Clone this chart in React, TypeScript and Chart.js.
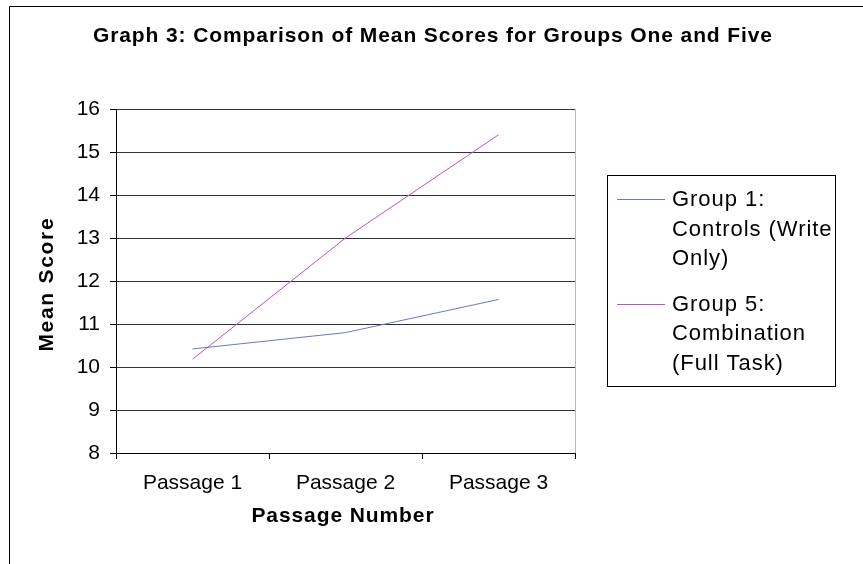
import React, { useEffect, useRef } from 'react';
import { Chart, registerables } from 'chart.js';

Chart.register(...registerables);

const categories = ['Passage 1', 'Passage 2', 'Passage 3'];
const group1Values = [10.42, 10.8, 11.57];
const group5Values = [10.18, 13.0, 15.4];
const seriesLabels = ['Group 1: Controls (Write Only)', 'Group 5: Combination (Full Task)'];
const legendLines = [
  ['Group 1:', 'Controls (Write', 'Only)'],
  ['Group 5:', 'Combination', '(Full Task)'],
];
const seriesColors = ['#6f78c6', '#c450c4'];
const yMin = 8;
const yMax = 16;
const yStep = 1;
const chartTitle = 'Graph 3: Comparison of Mean Scores for Groups One and Five';
const xTitle = 'Passage Number';
const yTitle = 'Mean Score';

const FONT = '"Liberation Sans", Arial, Helvetica, sans-serif';

function spacedText(ctx: CanvasRenderingContext2D, text: string, x: number, y: number, ls: number, align: 'center' | 'left') {
  (ctx as any).letterSpacing = '0px';
  ctx.textAlign = 'left';
  const w0 = ctx.measureText(text).width;
  const w = w0 + ls * (text.length - 1);
  const sx = align === 'center' ? x - w / 2 : x;
  (ctx as any).letterSpacing = ls + 'px';
  ctx.fillText(text, sx, y);
  (ctx as any).letterSpacing = '0px';
}

const decorPlugin = {
  id: 'decor',
  beforeDraw(chart: any) {
    const ctx: CanvasRenderingContext2D = chart.ctx;
    ctx.save();
    ctx.fillStyle = '#fff';
    ctx.fillRect(0, 0, chart.width, chart.height);
    ctx.strokeStyle = '#000';
    ctx.lineWidth = 1;
    ctx.beginPath();
    ctx.moveTo(9.5, chart.height);
    ctx.lineTo(9.5, 6.5);
    ctx.lineTo(chart.width, 6.5);
    ctx.stroke();
    ctx.restore();
  },
  beforeDatasetsDraw(chart: any) {
    const ctx: CanvasRenderingContext2D = chart.ctx;
    const a = chart.chartArea;
    ctx.save();
    ctx.strokeStyle = '#b8b8b8';
    ctx.lineWidth = 1;
    ctx.beginPath();
    ctx.moveTo(Math.round(a.right) + 0.5, a.top);
    ctx.lineTo(Math.round(a.right) + 0.5, a.bottom);
    ctx.stroke();
    ctx.restore();
  },
  afterDraw(chart: any) {
    const ctx: CanvasRenderingContext2D = chart.ctx;
    const a = chart.chartArea;
    ctx.save();
    ctx.fillStyle = '#000';
    ctx.textBaseline = 'alphabetic';
    // Title
    ctx.font = `bold 21px ${FONT}`;
    spacedText(ctx, chartTitle, chart.width / 2 + 1, 41.5, 0.9, 'center');
    // X title
    spacedText(ctx, xTitle, (a.left + a.right) / 2 - 3, 521.5, 0.9, 'center');
    // Y title
    ctx.save();
    ctx.translate(53, (a.top + a.bottom) / 2 + 4);
    ctx.rotate(-Math.PI / 2);
    spacedText(ctx, yTitle, 0, 0, 1.7, 'center');
    ctx.restore();
    // Legend
    const lx = 607.5, ly = 175.5, lw = 228, lh = 211;
    ctx.strokeStyle = '#000';
    ctx.lineWidth = 1;
    ctx.strokeRect(lx, ly, lw, lh);
    ctx.font = `22px ${FONT}`;
    const groupStarts = [206, 310.5];
    const lineH = 29.5;
    chart.data.datasets.forEach((ds: any, i: number) => {
      const base = groupStarts[i];
      ctx.strokeStyle = ds.borderColor;
      ctx.lineWidth = 1;
      ctx.beginPath();
      ctx.moveTo(617, Math.round(base - 7) + 0.5);
      ctx.lineTo(665, Math.round(base - 7) + 0.5);
      ctx.stroke();
      ctx.fillStyle = '#000';
      legendLines[i].forEach((t, j) => {
        spacedText(ctx, t, 672, base + j * lineH, 0.95, 'left');
      });
    });
    ctx.restore();
  },
};

export default function App() {
  const canvasRef = useRef<HTMLCanvasElement | null>(null);

  useEffect(() => {
    if (!canvasRef.current) return;
    const chart = new Chart(canvasRef.current, {
      type: 'line',
      data: {
        labels: categories,
        datasets: [
          {
            label: seriesLabels[0],
            data: group1Values,
            borderColor: seriesColors[0],
            backgroundColor: seriesColors[0],
            borderWidth: 1,
            pointRadius: 0,
            tension: 0,
            fill: false,
          },
          {
            label: seriesLabels[1],
            data: group5Values,
            borderColor: seriesColors[1],
            backgroundColor: seriesColors[1],
            borderWidth: 1,
            pointRadius: 0,
            tension: 0,
            fill: false,
          },
        ],
      },
      options: {
        animation: false,
        responsive: false,
        devicePixelRatio: 1,
        layout: { padding: { left: 60, right: 288, top: 109, bottom: 0 } },
        plugins: {
          legend: { display: false },
          title: { display: false },
          tooltip: { enabled: false },
        },
        scales: {
          x: {
            type: 'category',
            offset: true,
            grid: {
              offset: true,
              drawOnChartArea: false,
              drawTicks: true,
              tickLength: 6,
              tickColor: '#000',
              color: '#000',
            },
            border: { display: true, color: '#000', width: 1 },
            ticks: {
              color: '#000',
              font: { family: FONT, size: 21 },
              padding: 12,
              maxRotation: 0,
              autoSkip: false,
            },
            afterFit: (s: any) => {
              s.height = 111;
            },
          },
          y: {
            min: yMin,
            max: yMax,
            ticks: {
              stepSize: yStep,
              color: '#000',
              font: { family: FONT, size: 21 },
              padding: 10,
            },
            grid: { color: '#333', tickLength: 6, tickColor: '#000' },
            border: { display: true, color: '#000', width: 1 },
            afterFit: (s: any) => {
              s.width = 56;
            },
          },
        },
      },
      plugins: [decorPlugin],
    } as any);
    return () => chart.destroy();
  }, []);

  return (
    <div style={{ position: 'absolute', left: 0, top: 0, width: 863, height: 564 }}>
      <canvas ref={canvasRef} width={863} height={564} style={{ width: 863, height: 564, display: 'block' }} />
    </div>
  );
}
